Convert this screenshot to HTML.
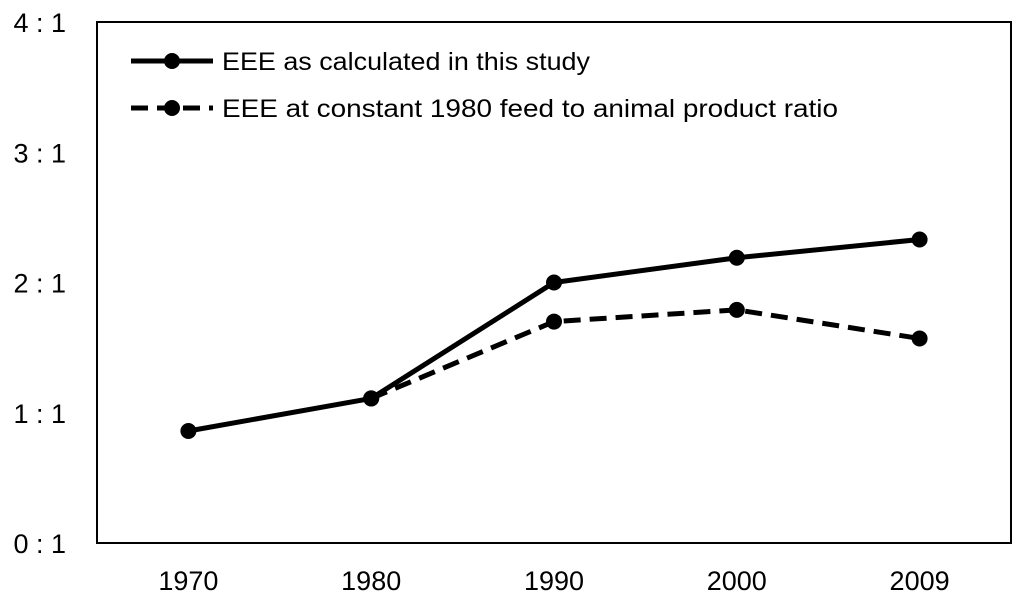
<!DOCTYPE html>
<html><head><meta charset="utf-8"><style>
body{margin:0;background:#fff}
svg{display:block;font-family:"Liberation Sans",sans-serif}
</style></head><body>
<svg id="chart" width="1024" height="603">
<rect x="97" y="22" width="914" height="521" fill="none" stroke="#000" stroke-width="2"/>
<g id="yticks"></g>
<g id="xticks"></g>
<g id="series"></g>
<g>
 <g>
  <line x1="131" y1="61" x2="213" y2="61" stroke="#000" stroke-width="5"/>
  <circle cx="172" cy="61" r="8" fill="#000"/>
  <text x="222" y="70" font-size="25" textLength="368" lengthAdjust="spacingAndGlyphs">EEE as calculated in this study</text>
 </g>
 <g>
  <line x1="131" y1="108" x2="213" y2="108" stroke="#000" stroke-width="5" stroke-dasharray="17,9"/>
  <circle cx="172" cy="108" r="8" fill="#000"/>
  <text x="222" y="117" font-size="25" textLength="616" lengthAdjust="spacingAndGlyphs">EEE at constant 1980 feed to animal product ratio</text>
 </g>
</g>
</svg>
<script>
const categories=["1970","1980","1990","2000","2009"];
const solidValues=[0.86,1.11,2.00,2.19,2.33];
const dashedValues=[null,1.11,1.70,1.79,1.57];
const yTickValues=[0,1,2,3,4];
const yTickLabels=["0 : 1","1 : 1","2 : 1","3 : 1","4 : 1"];
const NS="http://www.w3.org/2000/svg";
const L=97,R=1011,T=22,B=543;
const xs=i=>L+(R-L)/categories.length*(i+0.5);
const ys=v=>B-(B-T)*v/4;
function mk(tag,attrs,parent){const e=document.createElementNS(NS,tag);for(const k in attrs)e.setAttribute(k,attrs[k]);parent.appendChild(e);return e;}
const yg=document.getElementById('yticks');
yTickValues.forEach((v,i)=>{const t=mk('text',{x:66,y:ys(v)+10,'font-size':27,'text-anchor':'end'},yg);t.textContent=yTickLabels[i];

});
const xg=document.getElementById('xticks');
categories.forEach((c,i)=>{const t=mk('text',{x:xs(i),y:590,'font-size':27,'text-anchor':'middle'},xg);t.textContent=c;

});
const sg=document.getElementById('series');
function draw(vals,dash,name){
 const pts=vals.map((v,i)=>v==null?null:[xs(i),ys(v)]).filter(p=>p);
 const pl=mk('polyline',{points:pts.map(p=>p.join(',')).join(' '),fill:'none',stroke:'#000','stroke-width':5,'stroke-linejoin':'round'},sg);
 if(dash)pl.setAttribute('stroke-dasharray','17,9');
 
 
 pts.forEach(p=>{const c=mk('circle',{cx:p[0],cy:p[1],r:8,fill:'#000'},sg);
 
 });
}
draw(dashedValues,true,'dashed-series');
draw(solidValues,false,'solid-series');
</script>
</body></html>
